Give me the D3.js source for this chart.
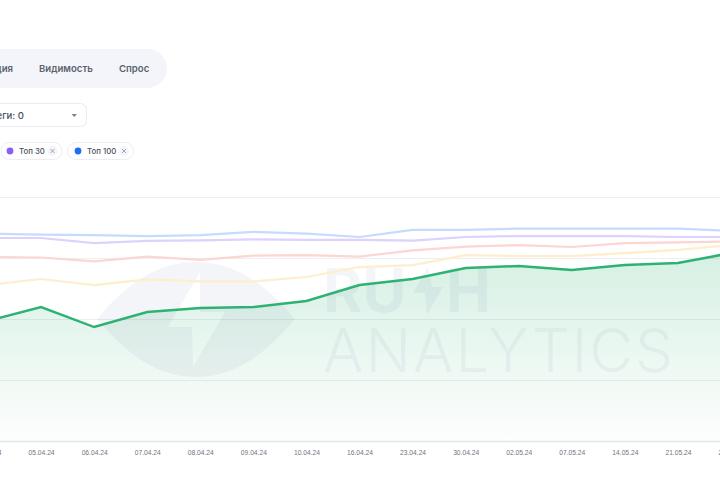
<!DOCTYPE html>
<html>
<head>
<meta charset="utf-8"/>
<script src="https://cdnjs.cloudflare.com/ajax/libs/d3/7.8.5/d3.min.js"></script>
<style>
  html, body { margin: 0; padding: 0; background: #fff; overflow: hidden; }
  svg { display: block; font-family: Inter, "Noto Sans", sans-serif; }
  .tab { font-size: 9.6px; font-weight: 600; fill: #5c6270; }
  .chip { font-size: 7.8px; font-weight: 500; fill: #4b5160; }
  .tick text { font-size: 6.7px; fill: #6f7480; }
</style>
</head>
<body>
<div id="chart"></div>
<script>
var dates = ["04.04.24","05.04.24","06.04.24","07.04.24","08.04.24","09.04.24","10.04.24","16.04.24",
             "23.04.24","30.04.24","02.05.24","07.05.24","14.05.24","21.05.24","28.05.24"];

var top100Values = [85.0,84.6,84.4,84.0,84.4,85.7,85.0,83.6,86.5,86.5,87.0,87.0,87.0,87.0,86.1];
var top30Values  = [83.2,83.2,81.1,82.0,82.2,82.6,82.4,82.4,82.1,83.6,84.0,84.0,84.0,83.6,83.6];
var top10Values  = [75.4,75.2,73.6,75.6,74.2,76.0,76.2,75.6,78.1,79.7,80.3,79.5,81.1,81.4,81.8];
var top5Values   = [63.9,66.4,63.9,66.2,65.4,65.4,67.2,71.3,72.1,76.2,75.8,75.8,77.0,78.3,80.3];
var top3Values   = [49.2,54.9,46.7,52.9,54.5,54.9,57.4,63.9,66.4,70.9,71.7,70.1,72.1,73.0,77.0];
var yTicks = [0,25,50,75,100];

var width = 720, height = 480;
var svg = d3.select("#chart").append("svg").attr("width", width).attr("height", height);

var x = d3.scalePoint().domain(dates).range([-12, 731]);
var y = d3.scaleLinear().domain([0,100]).range([441, 197]);

var defs = svg.append("defs");
var grad = defs.append("linearGradient").attr("id","areaFill")
  .attr("gradientUnits","userSpaceOnUse").attr("x1",0).attr("x2",0).attr("y1",250).attr("y2",441);
grad.append("stop").attr("offset","0%").attr("stop-color","#2eb273").attr("stop-opacity",0.2);
grad.append("stop").attr("offset","100%").attr("stop-color","#2eb273").attr("stop-opacity",0.01);

// top controls
svg.append("rect").attr("x",-40).attr("y",49).attr("width",207).attr("height",39).attr("rx",19.5).attr("fill","#f4f5fa");
svg.append("text").attr("class","tab").attr("x",13).attr("y",72).attr("text-anchor","end").text("Позиция");
svg.append("text").attr("class","tab").attr("x",39).attr("y",72).text("Видимость");
svg.append("text").attr("class","tab").attr("x",119).attr("y",72).text("Спрос");

svg.append("rect").attr("x",-40).attr("y",103.5).attr("width",126.5).attr("height",23).attr("rx",6)
  .attr("fill","#fff").attr("stroke","#e9ebf3");
svg.append("text").attr("x",24).attr("y",118.5).attr("text-anchor","end")
  .attr("font-size",9.6).attr("font-weight",500).attr("fill","#4b5160").text("Теги: 0");
svg.append("path").attr("d","M71.5,114 L77,114 L74.2,117 Z").attr("fill","#7b808c");

// legend chips
var chips = [
  {label:"Топ 30", x0:1, x1:62, dot:10, color:"#8b5cf6"},
  {label:"Топ 100", x0:67.5, x1:133.5, dot:78, color:"#1d6ef5"}
];
chips.forEach(function(c){
  var g = svg.append("g");
  g.append("rect").attr("x",c.x0).attr("y",142.5).attr("width",c.x1-c.x0).attr("height",17).attr("rx",8.5)
    .attr("fill","#fff").attr("stroke","#eceef5");
  g.append("circle").attr("cx",c.dot).attr("cy",151).attr("r",3.4).attr("fill",c.color);
  g.append("text").attr("class","chip").attr("x",c.dot+9).attr("y",153.8).text(c.label);
  g.append("circle").attr("cx",c.x1-9.5).attr("cy",151).attr("r",5).attr("fill","#f4f5fa");
  g.append("path").attr("d","M"+(c.x1-11.5)+",149 l4,4 m0,-4 l-4,4").attr("stroke","#8d929e").attr("stroke-width",0.8);
});

// area under main line
var area = d3.area().x(function(d,i){ return x(dates[i]); }).y0(y(0)).y1(function(d){ return y(d); });
svg.append("path").datum(top3Values).attr("d",area).attr("fill","url(#areaFill)");

// grid
svg.append("g").attr("class","grid")
  .call(d3.axisLeft(y).tickValues(yTicks).tickSize(-width).tickFormat(""))
  .call(function(g){ g.select(".domain").remove(); })
  .call(function(g){ g.selectAll(".tick line").attr("stroke","#1e325a").attr("stroke-opacity",0.08).attr("stroke-width",1.2); });

// watermark
var wm = svg.append("g").attr("fill","#24397a").attr("fill-opacity",0.05);
wm.append("path").attr("fill-rule","evenodd").attr("d",
  "M97,319 C130,280 160,262 196,262 C232,262 262,280 295,319 C262,358 232,377 196,377 C160,377 130,358 97,319 Z " +
  "M200,272 L168,327 L192,327 L193,367 L225,312 L200,312 Z");
wm.append("text").attr("x",323).attr("y",312).attr("font-size",60).attr("font-weight",700).text("RU");
wm.append("path").attr("d","M428,267 L413,293 L425,293 L427,315 L443,287 L432,287 Z");
wm.append("text").attr("x",446).attr("y",312).attr("font-size",60).attr("font-weight",700).text("H");
wm.append("text").attr("x",323).attr("y",372).attr("font-size",60).attr("font-weight",300)
  .attr("textLength",350).attr("lengthAdjust","spacing").text("ANALYTICS");

// x axis
svg.append("g").attr("transform","translate(0,441)")
  .call(d3.axisBottom(x).tickSize(0).tickPadding(9))
  .call(function(g){ g.select(".domain").attr("stroke","#dfe6ea").attr("stroke-width",1.4); });

// lines
var line = d3.line().x(function(d,i){ return x(dates[i]); }).y(function(d){ return y(d); });
var series = [
  {values:top100Values, color:"#c6dbfd", w:2.2},
  {values:top30Values,  color:"#dcd2fd", w:2.2},
  {values:top10Values,  color:"#fdd5d2", w:2.2},
  {values:top5Values,   color:"#feeecb", w:2.2},
  {values:top3Values,   color:"#2eb273", w:2.5}
];
svg.selectAll("path.series").data(series).enter().append("path")
  .attr("class","series").attr("fill","none")
  .attr("stroke",function(d){ return d.color; })
  .attr("stroke-width",function(d){ return d.w; })
  .attr("d",function(d){ return line(d.values); });
</script>
</body>
</html>
